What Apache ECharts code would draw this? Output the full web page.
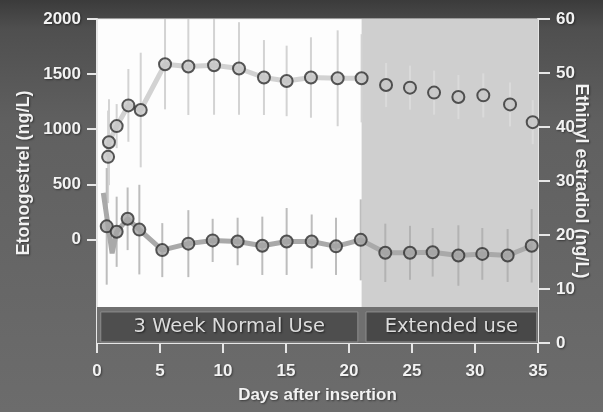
<!DOCTYPE html>
<html>
<head>
<meta charset="utf-8">
<script src="https://cdn.jsdelivr.net/npm/echarts@6/dist/echarts.min.js"></script>
<style>
html,body{margin:0;padding:0;background:#5e5e5e;}
#c{width:603px;height:412px;}
</style>
</head>
<body>
<div id="c"></div>
<script>
// ---- Data ----
const xTicks = [0, 5, 10, 15, 20, 25, 30, 35];
const leftTicks = [0, 500, 1000, 1500, 2000];
const rightTicks = [0, 10, 20, 30, 40, 50, 60];

// Etonogestrel (ng/L), left axis
const engDays   = [0.88, 0.95, 1.56, 2.49, 3.47, 5.4, 7.25, 9.29, 11.27, 13.25, 15.05, 16.98, 19.1, 21.0, 22.94, 24.84, 26.75, 28.68, 30.66, 32.78, 34.58];
const engValues = [749, 882, 1028, 1216, 1174, 1590, 1569, 1581, 1551, 1469, 1438, 1469, 1462, 1462, 1401, 1377, 1332, 1292, 1307, 1225, 1064];
const engErrors = [420, 390, 200, 330, 520, 410, 440, 450, 420, 340, 320, 365, 435, 400, 200, 200, 200, 200, 200, 200, 200];

// Ethinyl estradiol (ng/L), right axis
const eeDays   = [0.77, 1.56, 2.43, 3.36, 5.18, 7.25, 9.18, 11.16, 13.12, 15.05, 17.04, 18.97, 20.93, 22.88, 24.84, 26.64, 28.68, 30.58, 32.59, 34.5];
const eeValues = [21.6, 20.6, 23.0, 21.0, 17.2, 18.4, 19.0, 18.8, 18.0, 18.8, 18.8, 17.9, 19.1, 16.7, 16.7, 16.8, 16.2, 16.5, 16.2, 18.0];
const eeErrors = [10.8, 6.5, 5.8, 8.3, 5.0, 6.2, 4.0, 4.4, 5.4, 6.2, 5.0, 5.3, 7.5, 5.4, 5.0, 4.5, 5.6, 4.8, 4.9, 6.8];
// leading segment of the EE trace before the first marked sample
const eeLeadDays   = [0.5, 1.2];
const eeLeadValues = [27.8, 16.6];

// Phases
const phaseNames = ['3 Week Normal Use', 'Extended use'];
const phaseStart = [0, 21];
const phaseEnd   = [21, 35];

// ---- Build ----
const labelFont = { color: '#f2f2f2', fontSize: 17, fontWeight: 'bold', fontFamily: 'Liberation Sans, Arial, sans-serif',
  textShadowColor: 'rgba(0,0,0,0.45)', textShadowBlur: 2, textShadowOffsetX: 1, textShadowOffsetY: 1 };
const nameFont = Object.assign({}, labelFont, { fontSize: 18 });
const axisLineStyle = { color: '#e6e6e6', width: 2 };

const engLineIdx = engDays.filter(d => d <= 21).length;
const engLineData = engDays.slice(0, engLineIdx).map((d, i) => [d, engValues[i]]);
const eeLineData = eeLeadDays.map((d, i) => [d, eeLeadValues[i]])
  .concat(eeDays.slice(1).map((d, i) => [d, eeValues[i + 1]]));

function errRender(colorA, colorB) {
  return function (params, api) {
    const x = api.value(0), y = api.value(1), e = api.value(2);
    const p1 = api.coord([x, y + e]);
    const p2 = api.coord([x, y - e]);
    return { type: 'line', shape: { x1: p1[0], y1: p1[1], x2: p2[0], y2: p2[1] },
      style: { stroke: x > 21.5 ? colorB : colorA, lineWidth: 2 } };
  };
}

const option = {
  animation: false,
  backgroundColor: { type: 'linear', x: 0, y: 0, x2: 0, y2: 1,
    colorStops: [ { offset: 0, color: '#3b3b3b' }, { offset: 0.07, color: '#4f4f4f' },
                  { offset: 0.3, color: '#606060' }, { offset: 1, color: '#6c6c6c' } ] },
  grid: { left: 97, right: 65, top: 19, bottom: 69, outerBoundsMode: 'none', containLabel: false,
          show: true, backgroundColor: '#fdfdfd', borderColor: '#eeeeee', borderWidth: 1 },
  xAxis: {
    type: 'value', min: xTicks[0], max: xTicks[xTicks.length - 1], interval: 5,
    name: 'Days after insertion', nameLocation: 'middle', nameGap: 44, nameMoveOverlap: false,
    nameTextStyle: Object.assign({}, labelFont),
    axisLine: { onZero: false, lineStyle: axisLineStyle },
    axisTick: { length: 10, lineStyle: axisLineStyle },
    axisLabel: Object.assign({ margin: 20 }, labelFont),
    splitLine: { show: false }
  },
  yAxis: [
    {
      type: 'value', position: 'left', min: -940, max: 2000,
      name: 'Etonogestrel (ng/L)', nameLocation: 'middle', nameGap: 64, nameRotate: 90, nameMoveOverlap: false,
      nameTextStyle: Object.assign({ padding: [0, 0, 0, 16] }, nameFont),
      axisLine: { show: true, onZero: false, lineStyle: axisLineStyle },
      axisTick: { show: true, length: 10, lineStyle: axisLineStyle, customValues: leftTicks },
      axisLabel: Object.assign({ margin: 16, customValues: leftTicks, formatter: v => String(v) }, labelFont),
      splitLine: { show: false }
    },
    {
      type: 'value', position: 'right', min: rightTicks[0], max: rightTicks[rightTicks.length - 1], interval: 10,
      name: 'Ethinyl estradiol (ng/L)', nameLocation: 'middle', nameGap: 34, nameRotate: -90, nameMoveOverlap: false,
      nameTextStyle: Object.assign({}, nameFont),
      axisLine: { show: true, onZero: false, lineStyle: axisLineStyle },
      axisTick: { show: true, length: 12, lineStyle: axisLineStyle },
      axisLabel: Object.assign({ margin: 18 }, labelFont),
      splitLine: { show: false }
    }
  ],
  series: [
    {
      type: 'line', yAxisIndex: 1, data: [], z: 0, silent: true,
      markArea: {
        silent: true,
        data: [
          [ { xAxis: phaseStart[1], yAxis: 6.68, itemStyle: { color: '#cfcfcf' } }, { xAxis: phaseEnd[1], yAxis: 60 } ],
          [ { xAxis: 0, yAxis: 0, itemStyle: { color: '#707070' } }, { xAxis: 35, yAxis: 6.68 } ],
          [ { name: phaseNames[0], xAxis: phaseStart[0] + 0.3, yAxis: 0.2,
              itemStyle: { color: '#4e4e4e', borderColor: '#8c8c8c', borderWidth: 1 } },
            { xAxis: phaseEnd[0] - 0.3, yAxis: 5.75 } ],
          [ { name: phaseNames[1], xAxis: phaseStart[1] + 0.35, yAxis: 0.2,
              itemStyle: { color: '#484848', borderColor: '#8c8c8c', borderWidth: 1 } },
            { xAxis: phaseEnd[1] - 0.1, yAxis: 5.75 } ]
        ],
        label: { show: true, position: 'inside', color: '#dcdcdc', fontSize: 19.5, fontFamily: 'DejaVu Sans, sans-serif',
                 textShadowColor: 'rgba(0,0,0,0.6)', textShadowBlur: 2, textShadowOffsetX: 1, textShadowOffsetY: 1 }
      }
    },
    {
      type: 'custom', yAxisIndex: 0, z: 2, clip: true, silent: true,
      renderItem: errRender('#d3d3d3', '#dadada'),
      encode: { x: 0, y: 1 },
      data: engDays.map((d, i) => [d, engValues[i], engErrors[i]])
    },
    {
      type: 'custom', yAxisIndex: 1, z: 2, clip: true, silent: true,
      renderItem: errRender('#bdbdbd', '#b3b3b3'),
      encode: { x: 0, y: 1 },
      data: eeDays.map((d, i) => [d, eeValues[i], eeErrors[i]])
    },
    {
      type: 'line', yAxisIndex: 0, z: 3, showSymbol: false, silent: true,
      lineStyle: { color: '#d2d2d2', width: 5 },
      data: engLineData
    },
    {
      type: 'line', yAxisIndex: 1, z: 3, showSymbol: false, silent: true,
      lineStyle: { color: '#a9a9a9', width: 5 },
      data: eeLineData
    },
    {
      type: 'scatter', yAxisIndex: 0, z: 4, symbol: 'circle', symbolSize: 12, silent: true,
      itemStyle: { color: '#c6c6c6', borderColor: '#2f2f2f', borderWidth: 2 },
      data: engDays.map((d, i) => [d, engValues[i]])
    },
    {
      type: 'scatter', yAxisIndex: 1, z: 4, symbol: 'circle', symbolSize: 12, silent: true,
      itemStyle: { color: '#a4a4a4', borderColor: '#2f2f2f', borderWidth: 2 },
      data: eeDays.map((d, i) => [d, eeValues[i]])
    }
  ]
};

const chart = echarts.init(document.getElementById('c'));
chart.setOption(option);
</script>
</body>
</html>
